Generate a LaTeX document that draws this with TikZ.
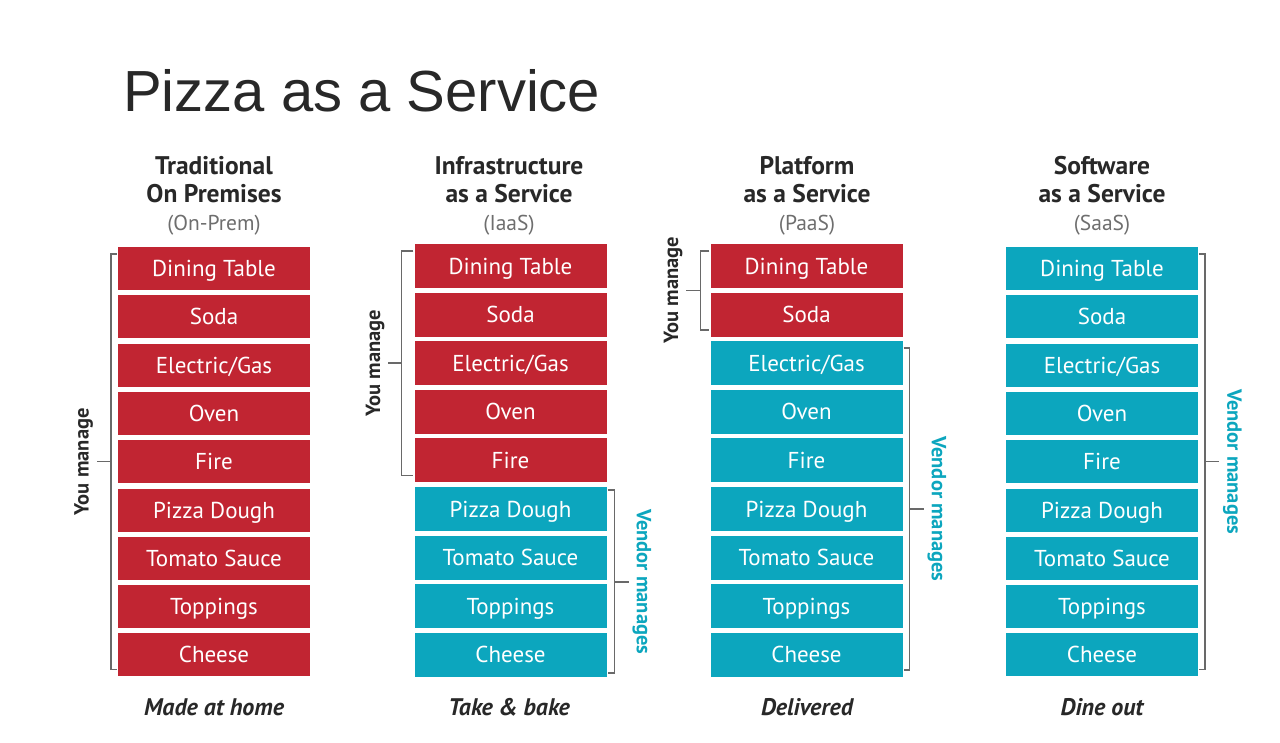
\documentclass[tikz,border=0pt]{standalone}
\usepackage{fontspec}
\setmainfont{PT Sans}
\newfontfamily\titlefont{Liberation Sans}
\usetikzlibrary{calc}
\definecolor{pizzared}{RGB}{193,37,50}
\definecolor{pizzateal}{RGB}{12,166,190}
\definecolor{bracegray}{RGB}{105,105,105}
\definecolor{inkdark}{RGB}{40,40,40}
\definecolor{inkgray}{RGB}{110,110,110}
\begin{document}
\begin{tikzpicture}[x=1pt,y=-1pt,
  layer/.style={minimum width=192pt,minimum height=43pt,inner sep=0pt,text height=16pt,text depth=0pt,text=white,font=\fontsize{23}{26}\selectfont},
  you/.style={layer,fill=pizzared},
  vendor/.style={layer,fill=pizzateal},
  head/.style={align=center,text=inkdark,font=\bfseries\fontsize{25.5}{28}\selectfont},
  short/.style={text=inkgray,font=\fontsize{21.5}{24}\selectfont},
  foot/.style={text=inkdark,font=\bfseries\itshape\fontsize{24}{26}\selectfont},
  brace/.style={draw=bracegray,line width=1.5pt},
  who/.style={anchor=south,inner sep=3pt,font=\bfseries\fontsize{20.5}{24}\selectfont}]
  \useasboundingbox[fill=white] (0,0) rectangle (1280,742);
  \node[anchor=base west,inner sep=0pt,text=inkdark,font=\titlefont\fontsize{58}{64}\selectfont] (title) at (123,111) {Pizza as a Service};
  % the four stacks
  \foreach \col/\cx/\cy/\cut/\dy/\h in {t/214/268.5/9/48.3/43,i/510.5/266/5/48.6/44,p/806.5/266/2/48.6/44,s/1102/268.5/0/48.3/43}{
    \foreach \lbl [count=\i] in {Dining Table,Soda,Electric/Gas,Oven,Fire,Pizza Dough,Tomato Sauce,Toppings,Cheese}{
      \ifnum\i>\cut \def\who{vendor}\else\def\who{you}\fi
      \node[\who,minimum height=\h pt] (\col\i) at (\cx,\cy+\dy*\i-\dy) {\lbl};
    }
  }
  \node[head] (thead) at (214,180) {Traditional\\On Premises};
  \node[head] (ihead) at (509,180) {Infrastructure\\as a Service};
  \node[head] (phead) at (807,180) {Platform\\as a Service};
  \node[head] (shead) at (1102,180) {Software\\as a Service};
  \node[short] (tshort) at (214,225) {(On-Prem)};
  \node[short] (ishort) at (509,225) {(IaaS)};
  \node[short] (pshort) at (807,225) {(PaaS)};
  \node[short] (sshort) at (1102,225) {(SaaS)};
  \node[foot] (tfoot) at (214,707) {Made at home};
  \node[foot] (ifoot) at (509,707) {Take \& bake};
  \node[foot] (pfoot) at (807,707) {Delivered};
  \node[foot] (sfoot) at (1102,707) {Dine out};
  % brackets
  \draw[brace] ([xshift=-1pt,yshift=-7pt]t1.north west) -- ++(-6,0) |- ([xshift=-1pt,yshift=7pt]t9.south west);
  \draw[brace] ($(t1.north west)!.5!(t9.south west)+(-7,0)$) -- ++(-14,0) node[who,rotate=90,text=inkdark] (tyou) {You manage};
  \draw[brace] ([xshift=-1pt,yshift=-7pt]i1.north west) -- ++(-12,0) |- ([xshift=-1pt,yshift=7pt]i5.south west);
  \draw[brace] ($(i1.north west)!.5!(i5.south west)+(-13,0)$) -- ++(-13,0) node[who,rotate=90,text=inkdark] (iyou) {You manage};
  \draw[brace] ([xshift=1pt,yshift=-3pt]i6.north east) -- ++(7,0) |- ([xshift=1pt,yshift=4pt]i9.south east);
  \draw[brace] ($(i6.north east)!.5!(i9.south east)+(8,0)$) -- ++(14,0) node[who,rotate=-90,text=pizzateal] (ivendor) {Vendor manages};
  \draw[brace] ([xshift=-1pt,yshift=-7pt]p1.north west) -- ++(-9,0) |- ([xshift=-1pt,yshift=7pt]p2.south west);
  \draw[brace] ($(p1.north west)!.5!(p2.south west)+(-10,0)$) -- ++(-14,0) node[who,rotate=90,text=inkdark] (pyou) {You manage};
  \draw[brace] ([xshift=1pt,yshift=-7pt]p3.north east) -- ++(6,0) |- ([xshift=1pt,yshift=7pt]p9.south east);
  \draw[brace] ($(p3.north east)!.5!(p9.south east)+(7,0)$) -- ++(14,0) node[who,rotate=-90,text=pizzateal] (pvendor) {Vendor manages};
  \draw[brace] ([xshift=1pt,yshift=-7pt]s1.north east) -- ++(6,0) |- ([xshift=1pt,yshift=7pt]s9.south east);
  \draw[brace] ($(s1.north east)!.5!(s9.south east)+(7,0)$) -- ++(14,0) node[who,rotate=-90,text=pizzateal] (svendor) {Vendor manages};
\end{tikzpicture}
\end{document}
